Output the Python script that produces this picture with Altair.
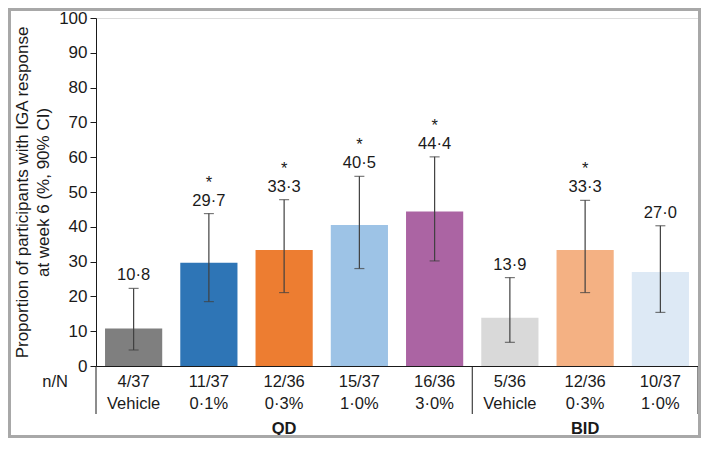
import altair as alt
import pandas as pd

# ---- data ----
groups = ["QD", "QD", "QD", "QD", "QD", "BID", "BID", "BID"]
treatments = ["Vehicle", "0·1%", "0·3%", "1·0%", "3·0%", "Vehicle", "0·3%", "1·0%"]
n_over_N = ["4/37", "11/37", "12/36", "15/37", "16/36", "5/36", "12/36", "10/37"]
values = [10.8, 29.7, 33.3, 40.5, 44.4, 13.9, 33.3, 27.0]
ci_low = [4.6, 18.5, 21.1, 28.0, 30.2, 6.8, 21.1, 15.4]
ci_high = [22.3, 43.8, 47.8, 54.5, 60.1, 25.4, 47.6, 40.3]
significant = [False, True, True, True, True, False, True, False]
labels = ["10·8", "29·7", "33·3", "40·5", "44·4", "13·9", "33·3", "27·0"]
colors = ["#7f7f7f", "#2e75b6", "#ed7d31", "#9dc3e6", "#ab64a3",
          "#d9d9d9", "#f4b183", "#dde9f5"]
y_ticks = list(range(0, 101, 10))

keys = [f"{g} {t}" for g, t in zip(groups, treatments)]
df = pd.DataFrame({
    "key": keys, "group": groups, "treatment": treatments, "nN": n_over_N,
    "value": values, "lo": ci_low, "hi": ci_high, "sig": significant,
    "label": labels, "color": colors,
})
df["star"] = ["*" if s else "" for s in significant]

group_df = pd.DataFrame({"key": [keys[2], keys[6]], "group": ["QD", "BID"]})

W, H = 602, 348
step = W / len(keys)
FONT = "Liberation Sans"
TXT = "#1a1a1a"

xscale = alt.Scale(domain=keys, paddingInner=0.24, paddingOuter=0.12)
x_axis = alt.Axis(labels=False, ticks=False, title=None, domain=True,
                  domainColor=TXT, domainWidth=1)
y_scale = alt.Scale(domain=[0, 100], nice=False)
y_axis = alt.Axis(values=y_ticks, grid=False, tickSize=6, tickColor=TXT,
                  domainColor=TXT, labelFontSize=17, labelColor=TXT,
                  labelFont=FONT, labelPadding=3, labelOverlap=False,
                  labelFlush=False,
                  title=["Proportion of participants with IGA response",
                         "at week 6 (%, 90% CI)"],
                  titleFont=FONT, titleFontSize=17, titleFontWeight="normal",
                  titleColor=TXT, titlePadding=6, titleLineHeight=21)


def X():
    return alt.X("key:N", scale=xscale, sort=keys, axis=x_axis)


def Y(field):
    return alt.Y(field, scale=y_scale, axis=y_axis)


base = alt.Chart(df)

bars = base.mark_bar().encode(
    x=X(), y=Y("value:Q"), color=alt.Color("color:N", scale=None))

err = base.mark_rule(color="#404040", strokeWidth=1.2).encode(
    x=X(), y=Y("lo:Q"), y2="hi:Q")
cap_lo = base.mark_tick(color="#404040", thickness=1.2, size=10).encode(
    x=X(), y=Y("lo:Q"))
cap_hi = base.mark_tick(color="#404040", thickness=1.2, size=10).encode(
    x=X(), y=Y("hi:Q"))

val_text = base.mark_text(font=FONT, fontSize=16.5, color=TXT, baseline="middle", dy=-13).encode(
    x=X(), y=Y("hi:Q"), text="label:N")
star_text = base.mark_text(font=FONT, fontSize=16.5, color=TXT, baseline="middle", dy=-31).encode(
    x=X(), y=Y("hi:Q"), text="star:N")

nN_text = base.mark_text(font=FONT, fontSize=16.5, color=TXT, baseline="middle").encode(
    x=X(), y=alt.value(H + 16), text="nN:N")
trt_text = base.mark_text(font=FONT, fontSize=16.5, color=TXT, baseline="middle").encode(
    x=X(), y=alt.value(H + 38), text="treatment:N")
grp_text = alt.Chart(group_df).mark_text(font=FONT, fontSize=16.5, fontWeight="bold",
                                         color=TXT, baseline="middle").encode(
    x=X(), y=alt.value(H + 63), text="group:N")

nN_head = alt.Chart(pd.DataFrame({"t": ["n/N"]})).mark_text(
    font=FONT, fontSize=16.5, color=TXT, baseline="middle", align="right").encode(
    x=alt.value(-28), y=alt.value(H + 16), text="t:N")

sep_df = pd.DataFrame({"px": [0, 5 * step, W]})
seps = alt.Chart(sep_df).mark_rule(color=TXT, strokeWidth=1).encode(
    x=alt.X("px:Q", scale=None), y=alt.value(H), y2=alt.value(H + 48))

frame = alt.Chart(pd.DataFrame({"a": [0]})).mark_rect(
    filled=False, stroke="#a8a8a8", strokeWidth=3).encode(
    x=alt.value(-86.5), x2=alt.value(W + 1.5), y=alt.value(-8.5), y2=alt.value(H + 70.5))

chart = alt.layer(
    bars, err, cap_lo, cap_hi, val_text, star_text, nN_text, trt_text,
    grp_text, nN_head, seps, frame
).properties(
    width=W, height=H,
    autosize=alt.AutoSizeParams(type="none"),
    padding={"left": 88, "top": 10, "right": 3, "bottom": 72},
).configure_view(stroke=None).configure(background="white")

chart.save("out.html", embed_options={"renderer": "svg", "actions": False})
